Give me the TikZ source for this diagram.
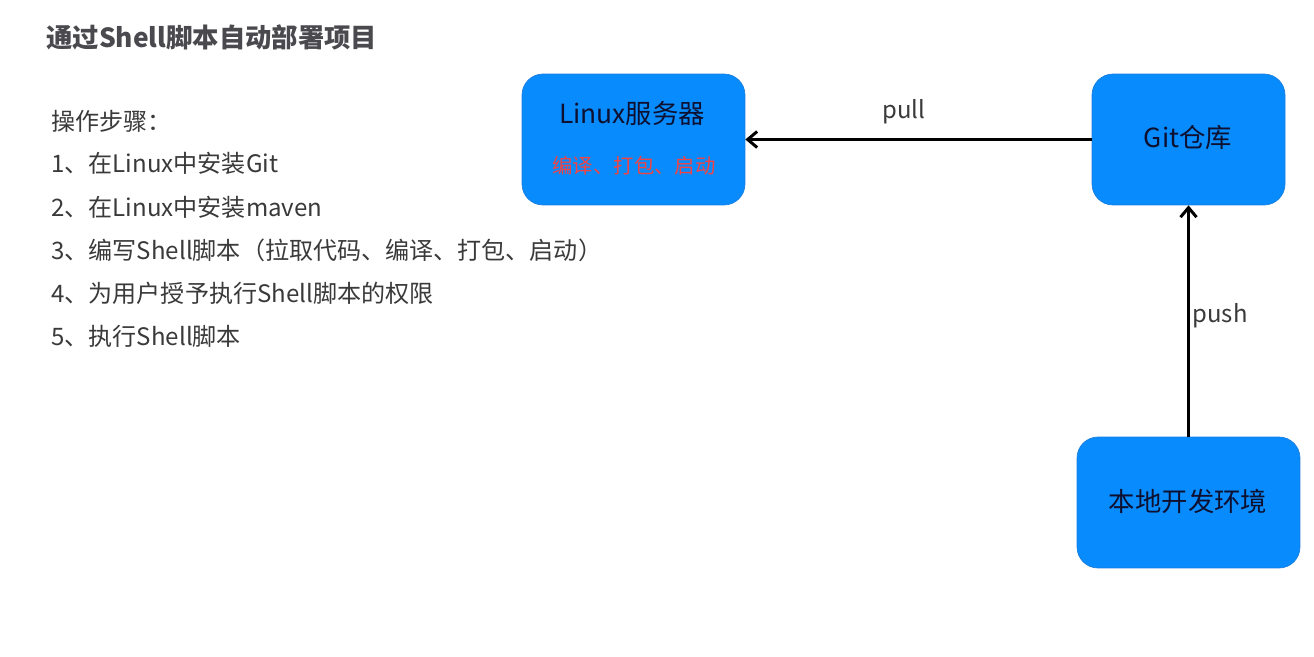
\documentclass[tikz,border=0pt]{standalone}
\usepackage{fontspec}
\setmainfont{Noto Sans CJK SC}
\usepackage{xcolor}
\usepackage{tikz}
\usetikzlibrary{arrows.meta}
\definecolor{boxblue}{HTML}{088BFC}
\definecolor{boxedge}{HTML}{1A7FE0}
\definecolor{ink}{HTML}{3A3A3A}
\definecolor{titleink}{HTML}{4A4A4E}
\definecolor{boxink}{HTML}{0E1030}
\definecolor{warnred}{HTML}{F24444}
\tikzset{hostbox/.style={draw=boxedge,thin,fill=boxblue,rounded corners=0.42cm,minimum width=4.46cm,minimum height=2.62cm},
  boxtext/.style={text=boxink,font=\fontsize{15}{18}\selectfont,inner sep=0pt},
  steptext/.style={text=ink,anchor=west,font=\fontsize{13.7}{16}\selectfont,inner sep=0pt},
  flow/.style={line width=1.7pt,-{Straight Barb[length=1.9mm,width=3.2mm,line width=1.7pt]}},
  flowlabel/.style={text=ink,font=\fontsize{13.6}{16}\selectfont,inner sep=0pt}}

\begin{document}
\begin{tikzpicture}[x=0.02cm,y=-0.02cm]
\useasboundingbox[fill=white] (0,0) rectangle (1314,656);
\node[anchor=west,text=titleink,font=\bfseries\fontsize{15}{18}\selectfont,inner sep=0pt] (title) at (46,37) {通过Shell脚本自动部署项目};
\node[steptext] (s0) at (51,121) {操作步骤：};
\node[steptext] (s1) at (51,163) {1、在Linux中安装Git};
\node[steptext] (s2) at (51,207) {2、在Linux中安装maven};
\node[steptext] (s3) at (51,250) {3、编写Shell脚本（拉取代码、编译、打包、启动）};
\node[steptext] (s4) at (51,293) {4、为用户授予执行Shell脚本的权限};
\node[steptext] (s5) at (51,336) {5、执行Shell脚本};
\node[hostbox] (linux) at (633.5,139.5) {};
\node[boxtext] (linuxname) at (632,113) {Linux服务器};
\node[text=warnred,font=\fontsize{11.6}{14}\selectfont,inner sep=0pt] (linuxjob) at (634,166) {编译、打包、启动};
\node[hostbox,minimum width=3.86cm] (git) at (1188.5,139.5) {};
\node[boxtext] (gitname) at (1188,138) {Git仓库};
\node[hostbox] (local) at (1188.5,502.5) {};
\node[boxtext] (localname) at (1188,501) {本地开发环境};
\draw[flow] (git.west) -- (linux.east);
\draw[flow] (local.north) -- (git.south);
\node[flowlabel] (pull) at (904,112) {pull};
\node[flowlabel] (push) at (1220,316) {push};
\end{tikzpicture}
\end{document}
